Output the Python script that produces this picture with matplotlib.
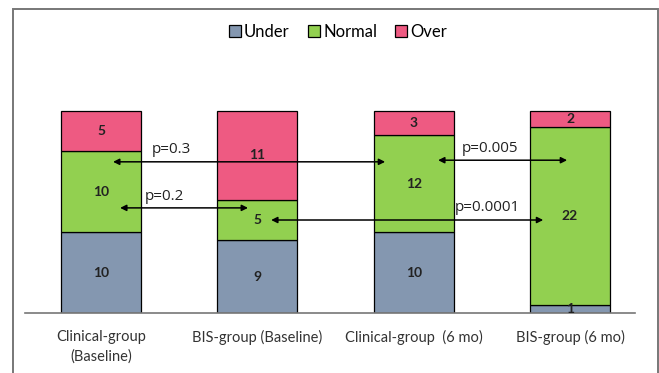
import matplotlib
matplotlib.use("Agg")
import matplotlib.pyplot as plt
from matplotlib.patches import Patch, Rectangle

groups = ["Clinical-group\n(Baseline)", "BIS-group (Baseline)", "Clinical-group  (6 mo)", "BIS-group (6 mo)"]
under = [10, 9, 10, 1]
normal = [10, 5, 12, 22]
over = [5, 11, 3, 2]

p_values = ["p=0.3", "p=0.2", "p=0.005", "p=0.0001"]

colors = {"Under": "#8497b0", "Normal": "#92d050", "Over": "#ee5a82"}

plt.rcParams['font.family'] = ['Lato', 'DejaVu Sans']

fig = plt.figure(figsize=(6.59, 3.73), dpi=100)
ax = fig.add_axes([0.038, 0.161, 0.926, 0.65])

x = list(range(len(groups)))
w = 0.512
bottoms = [0] * len(groups)
for name, vals in [("Under", under), ("Normal", normal), ("Over", over)]:
    ax.bar(x, vals, w, bottom=bottoms, color=colors[name], edgecolor="black", linewidth=0.9, zorder=2)
    for i, v in enumerate(vals):
        ax.text(x[i], bottoms[i] + v / 2, str(v), ha="center", va="center",
                fontsize=10, fontweight="bold", color="#222222", zorder=4)
    bottoms = [b + v for b, v in zip(bottoms, vals)]

# comparison arrows: (x start, x end, y, text x, text y)
arrows = [
    (0.077, 1.817, 18.7, 0.326, 20.2),
    (0.122, 0.940, 13.0, 0.280, 14.4),
    (2.156, 2.981, 18.9, 2.310, 20.4),
    (1.088, 2.828, 11.5, 2.260, 13.1),
]
for (x0, x1, y, tx, ty), label in zip(arrows, p_values):
    ax.annotate("", xy=(x1, y), xytext=(x0, y),
                arrowprops=dict(arrowstyle="<|-|>", color="black", lw=1.1,
                                mutation_scale=9, shrinkA=0, shrinkB=0), zorder=5)
    ax.text(tx, ty, label, ha="left", va="center", fontsize=11, family="Open Sans", color="#222222", zorder=5)

ax.set_xlim(-0.486, 3.417)
ax.set_ylim(0, 30)
ax.set_xticks(x)
ax.set_xticklabels(groups, fontsize=10.5, color="#333333", linespacing=1.55)
ax.tick_params(axis="x", length=0, pad=12)
ax.set_yticks([])
for s in ["left", "right", "top"]:
    ax.spines[s].set_visible(False)
ax.spines["bottom"].set_color("#777777")
ax.spines["bottom"].set_linewidth(1.2)

handles = [Patch(facecolor=c, edgecolor="black", linewidth=0.9, label=n) for n, c in colors.items()]
fig.legend(handles=handles, loc="center", bbox_to_anchor=(0.513, 0.915), ncol=3, frameon=False,
           fontsize=12, handlelength=0.7, handleheight=0.7, handletextpad=0.2, columnspacing=1.1)

# outer frame
fig.add_artist(Rectangle((0.0197, -0.05), 0.9788, 1.026, transform=fig.transFigure,
                         fill=False, edgecolor="#777777", linewidth=1.4))

fig.savefig("out.png", dpi=100)
